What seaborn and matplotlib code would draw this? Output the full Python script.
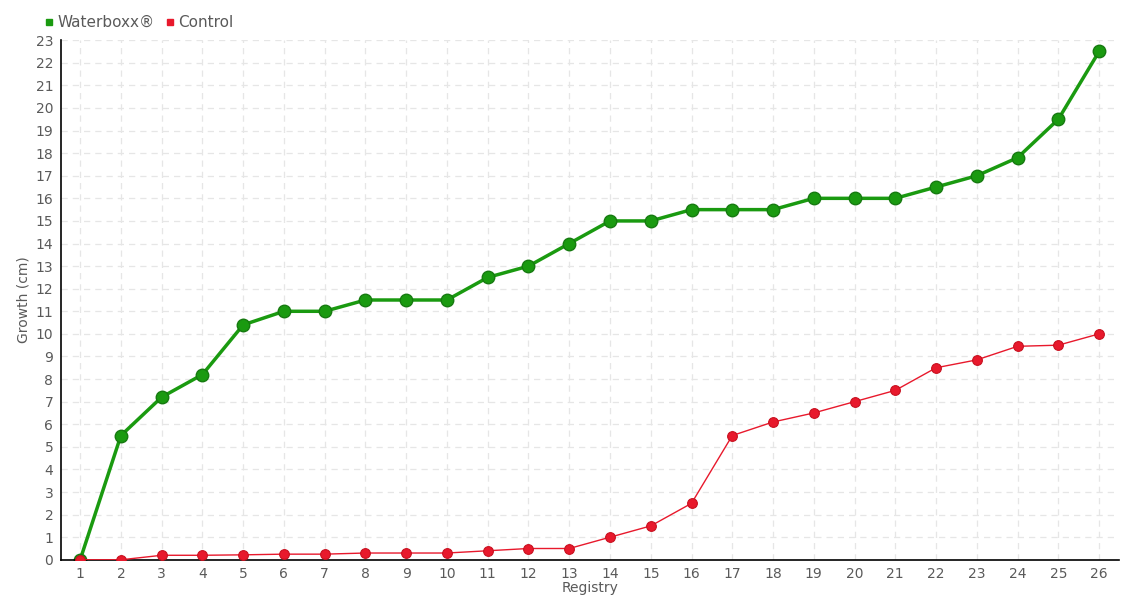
import pandas as pd
import seaborn as sns
import matplotlib.pyplot as plt
from matplotlib.lines import Line2D

# Datos
registry = list(range(1, 27))
waterboxx = [0, 5.5, 7.2, 8.2, 10.4, 11, 11, 11.5, 11.5, 11.5, 12.5, 13, 14, 15, 15,
             15.5, 15.5, 15.5, 16, 16, 16, 16.5, 17, 17.8, 19.5, 22.5]
control = [0, 0, 0.2, 0.2, 0.22, 0.25, 0.25, 0.3, 0.3, 0.3, 0.4, 0.5, 0.5, 1, 1.5,
           2.5, 5.5, 6.1, 6.5, 7, 7.5, 8.5, 8.85, 9.45, 9.5, 10]
series_names = ['Waterboxx®', 'Control']
colors = ['#1a9a10', '#e8192c']

df = pd.DataFrame({
    'Registry': registry * 2,
    'Growth': waterboxx + control,
    'Serie': [series_names[0]] * len(registry) + [series_names[1]] * len(registry),
})

sns.set_style('white')
plt.rcParams['font.family'] = ['Liberation Sans Narrow', 'DejaVu Sans']
text_color = '#5a5a5a'

fig, ax = plt.subplots(figsize=(11.4, 6), dpi=100)
fig.subplots_adjust(left=0.0535, right=0.982, top=0.933, bottom=0.067)

# Control (fina)
sns.lineplot(data=df[df['Serie'] == 'Control'], x='Registry', y='Growth', ax=ax,
             color=colors[1], linewidth=1, marker='o', markersize=7,
             markeredgecolor='#c8101f', markeredgewidth=0.8, legend=False, zorder=3)
# Waterboxx (gruesa)
sns.lineplot(data=df[df['Serie'] == 'Waterboxx®'], x='Registry', y='Growth', ax=ax,
             color=colors[0], linewidth=2.5, marker='o', markersize=9,
             markeredgecolor='#167a10', markeredgewidth=1, legend=False, zorder=2)

ax.set_xlim(0.53, 26.5)
ax.set_ylim(0, 23)
ax.set_xticks(registry)
ax.set_yticks(range(0, 24))
ax.grid(True, linestyle=(0, (5, 4)), color='#e6e6e6', linewidth=0.9)
ax.set_axisbelow(True)

for s in ['top', 'right']:
    ax.spines[s].set_visible(False)
for s in ['left', 'bottom']:
    ax.spines[s].set_color('black')
    ax.spines[s].set_linewidth(1.2)

ax.tick_params(axis='both', colors=text_color, labelsize=10, length=4, direction='inout')
ax.tick_params(axis='both', color='black')
ax.set_xlabel('Registry', color=text_color, fontsize=10, labelpad=0)
ax.set_ylabel('Growth (cm)', color=text_color, fontsize=10, labelpad=4)

handles = [Line2D([], [], linestyle='none', marker='s', markersize=5, color=c) for c in colors]
fig.legend(handles, series_names, loc='upper left', bbox_to_anchor=(0.04, 0.975),
           borderaxespad=0, borderpad=0, ncol=2, frameon=False, fontsize=11,
           handlelength=0.5, handletextpad=0.3, columnspacing=0.7,
           labelcolor=text_color)

plt.savefig('out.png', dpi=100)
